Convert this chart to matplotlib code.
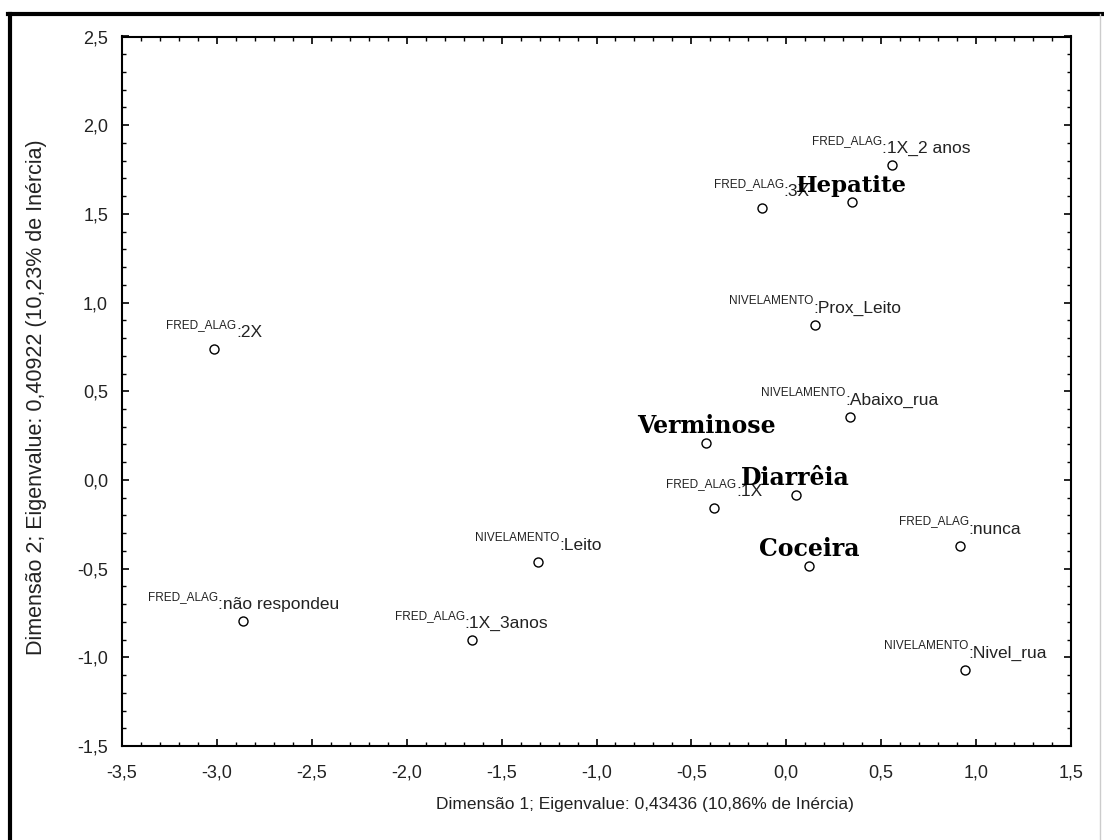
import matplotlib
matplotlib.use("Agg")
import matplotlib.pyplot as plt
from matplotlib.lines import Line2D
from matplotlib.transforms import offset_copy
from matplotlib.ticker import MultipleLocator, FuncFormatter

# ---- data ----
prefixes = ["FRED_ALAG", "FRED_ALAG", "FRED_ALAG", "NIVELAMENTO", "NIVELAMENTO",
            "FRED_ALAG", "FRED_ALAG", "NIVELAMENTO", "FRED_ALAG", "FRED_ALAG",
            "NIVELAMENTO"]
suffixes = [":1X_2 anos", ":3X", ":2X", ":Prox_Leito", ":Abaixo_rua",
            ":1X", ":nunca", ":Leito", ":não respondeu", ":1X_3anos",
            ":Nivel_rua"]
cat_x = [0.555, -0.130, -3.014, 0.151, 0.336,
         -0.381, 0.915, -1.308, -2.861, -1.658, 0.942]
cat_y = [1.776, 1.532, 0.738, 0.874, 0.357,
         -0.160, -0.370, -0.462, -0.795, -0.902, -1.071]

dis_names = ["Hepatite", "Verminose", "Diarrêia", "Coceira"]
dis_x = [0.345, -0.423, 0.049, 0.120]
dis_y = [1.565, 0.210, -0.085, -0.483]

xlabel = "Dimensão 1; Eigenvalue: 0,43436 (10,86% de Inércia)"
ylabel = "Dimensão 2; Eigenvalue: 0,40922 (10,23% de Inércia)"

W, H = 1104, 840
fig = plt.figure(figsize=(W / 100, H / 100), dpi=100)
fig.patch.set_facecolor("white")
ax = fig.add_axes([122 / W, 1 - 746 / H, (1071 - 122) / W, (746 - 36.5) / H])

sans = ["Liberation Sans", "DejaVu Sans"]
txtc = "#222222"

ax.plot(cat_x + dis_x, cat_y + dis_y, linestyle="none", marker="o",
        markersize=6.5, markerfacecolor="white", markeredgecolor="black",
        markeredgewidth=1.0, zorder=3)

ax.set_xlim(-3.5, 1.5)
ax.set_ylim(-1.5, 2.5)
ax.xaxis.set_major_locator(MultipleLocator(0.5))
ax.yaxis.set_major_locator(MultipleLocator(0.5))
ax.xaxis.set_minor_locator(MultipleLocator(0.1))
ax.yaxis.set_minor_locator(MultipleLocator(0.1))
fmt = FuncFormatter(lambda v, p: f"{v:.1f}".replace(".", ",").replace("-0,0", "0,0"))
ax.xaxis.set_major_formatter(fmt)
ax.yaxis.set_major_formatter(fmt)
ax.tick_params(which="both", direction="in", top=True, right=True, color="black")
ax.tick_params(which="major", length=5, width=1.2)
ax.tick_params(which="minor", length=3, width=1.0)
ax.tick_params(axis="x", which="major", pad=13)
ax.tick_params(axis="y", which="major", pad=10)
for lab in ax.get_xticklabels() + ax.get_yticklabels():
    lab.set_fontfamily(sans)
    lab.set_fontsize(13)
    lab.set_color(txtc)
for s in ax.spines.values():
    s.set_linewidth(1.5)
    s.set_color("black")

fig.text(645 / W, 1 - 805 / H, xlabel, ha="center", va="center",
         fontsize=12.5, family=sans, color=txtc)
fig.text(37 / W, 1 - 397 / H, ylabel, ha="center", va="center",
         rotation=90, fontsize=15.5, family=sans, color=txtc)

# category labels: small prefix raised, suffix, whole block centred over point
renderer = fig.canvas.get_renderer()
for pre, suf, x, y in zip(prefixes, suffixes, cat_x, cat_y):
    tp = ax.text(x, y, pre, fontsize=8.5, family=sans, color=txtc,
                 ha="left", va="baseline")
    ts = ax.text(x, y, suf, fontsize=12.5, family=sans, color=txtc,
                 ha="left", va="baseline")
    wp = tp.get_window_extent(renderer).width
    ws = ts.get_window_extent(renderer).width
    tot = wp + ws
    tp.set_transform(offset_copy(ax.transData, fig, x=-tot / 2, y=12 + 9, units="dots"))
    ts.set_transform(offset_copy(ax.transData, fig, x=-tot / 2 + wp, y=12, units="dots"))

dis_sizes = [16.5, 17, 17, 17]
for name, x, y, fs in zip(dis_names, dis_x, dis_y, dis_sizes):
    ax.text(x, y, name, fontsize=fs, family="DejaVu Serif", fontweight="heavy",
            color="black", ha="center", va="baseline",
            transform=offset_copy(ax.transData, fig, x=0, y=10, units="dots"))

# outer frame (sunken look)
fig.add_artist(Line2D([8 / W, 1], [1 - 14 / H, 1 - 14 / H], transform=fig.transFigure,
                      color="black", linewidth=3))
fig.add_artist(Line2D([10 / W, 10 / W], [0, 1 - 14 / H], transform=fig.transFigure,
                      color="black", linewidth=3))
fig.add_artist(Line2D([1100 / W, 1100 / W], [0, 1 - 14 / H], transform=fig.transFigure,
                      color="#cccccc", linewidth=1))

fig.savefig("out.png", dpi=100, facecolor="white")
